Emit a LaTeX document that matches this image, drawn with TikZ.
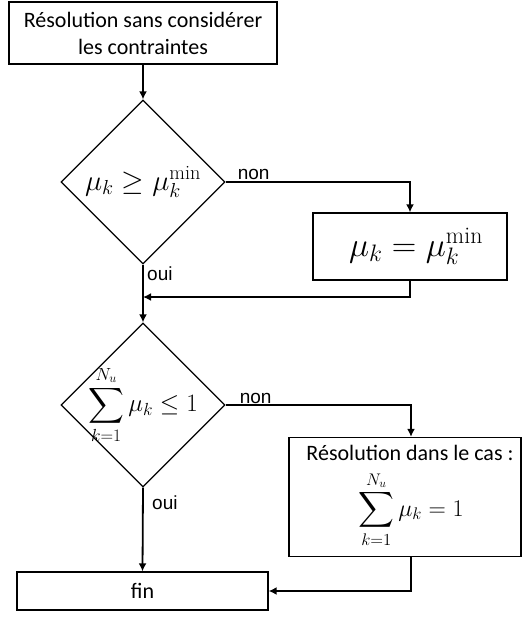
\RequirePackage{fix-cm}
\documentclass[tikz,border=0pt]{standalone}
\usepackage{amsmath}
\usepackage{fontspec}
\usepackage{tikz}
\usetikzlibrary{shapes.geometric,arrows.meta,positioning}
\newfontfamily\boxfont{Carlito}
\newfontfamily\labelfont{Liberation Sans}

\begin{document}
\begin{tikzpicture}[x=1pt, y=-1pt,
	box/.style={draw, line width=1.3pt, inner sep=0pt, align=center, font=\boxfont\fontsize{22}{27}\selectfont},
	decision/.style={draw, diamond, aspect=1, line width=1.3pt, inner sep=-12pt, minimum width=164pt, minimum height=164pt, font=\fontsize{25}{30}\selectfont},
	link/.style={draw, line width=1.8pt, -{Latex[length=8pt,width=8pt]}},
	lbl/.style={inner sep=0pt, font=\labelfont\fontsize{19}{22}\selectfont} ]

		\useasboundingbox (0,0) rectangle (523,617);

		\node[box, minimum width=268pt, minimum height=62pt] (start) at (143,33) {Résolution sans considérer\\les contraintes};
		\node[decision, font=\fontsize{29}{32}\selectfont] (d1) at (143,182) {$\mu_k \geq \mu_k^{\min}$};
		\node[box, minimum width=194pt, minimum height=67pt] (set) at (410,246.5) {\fontsize{34}{38}\selectfont\hspace*{12pt}$\mu_k = \mu_k^{\min}$};
		\node[decision] (d2) at (143,405) {$\displaystyle\sum_{k=1}^{N_u}\mu_k \leq 1$};
		\node[box, minimum width=232pt, minimum height=119pt] (relax) at (405,497) {\hspace*{10pt}Résolution dans le cas :\\[9pt]\fontsize{24}{30}\selectfont\hspace*{12pt}$\displaystyle\sum_{k=1}^{N_u}\mu_k = 1$};
		\node[box, minimum width=251pt, minimum height=38pt] (fin) at (142.5,591) {fin};
		\coordinate (m1) at (143,297);

		\draw[link] (start.south) -- (d1.north);
		\draw[link] (d1.east) -| (set.north);
		\draw[link] (set.south) |- (m1);
		\draw[link] (d1.south) -- (d2.north);
		\draw[link] (d2.east) -| ([xshift=6pt]relax.north);
		\draw[link] (d2.south) -- (fin.north);
		\draw[link] ([xshift=6pt]relax.south) |- (fin.east);

		\node[lbl, above right=2pt and 12pt of d1.east] (non1) {non};
		\node[lbl, below right=2pt and 4pt of d1.south] (oui1) {oui};
		\node[lbl, above right=1pt and 14pt of d2.east] (non2) {non};
		\node[lbl, below right=8pt and 9pt of d2.south] (oui2) {oui};
	\end{tikzpicture}
\end{document}
